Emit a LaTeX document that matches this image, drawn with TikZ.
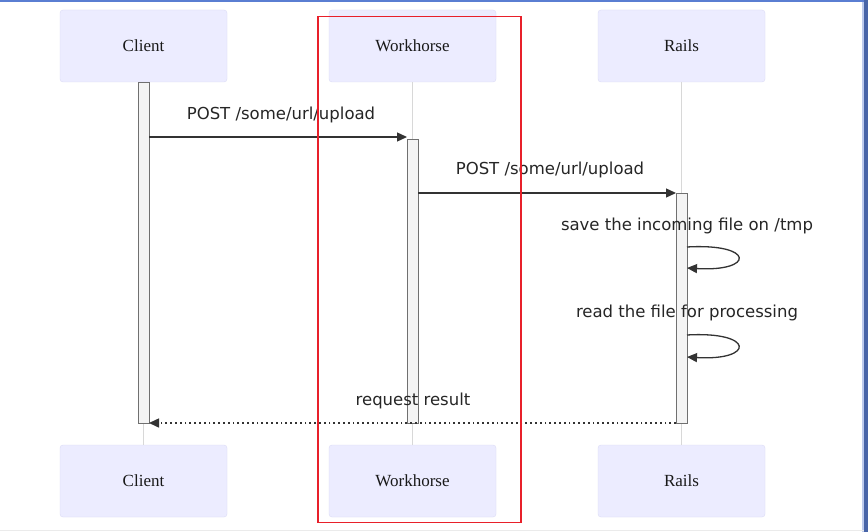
\documentclass[tikz,border=0pt]{standalone}
\usepackage{fontspec}
\setmainfont{Liberation Serif}
\newfontfamily\msgfont{DejaVu Sans}
\usetikzlibrary{arrows.meta}
\definecolor{actfill}{HTML}{ECECFF}
\definecolor{actdraw}{HTML}{DCDCF6}
\definecolor{barfill}{HTML}{F4F4F4}
\definecolor{bardraw}{HTML}{707070}
\definecolor{lifecol}{HTML}{D8D8D8}
\definecolor{msgcol}{HTML}{333333}
\definecolor{framecol}{HTML}{5A7ED2}
\definecolor{hlred}{HTML}{E8202A}
\tikzset{
  actor/.style={draw=actdraw, fill=actfill, rounded corners=3pt, minimum width=167pt, minimum height=72pt, inner sep=0pt, font=\fontsize{17}{19}\selectfont, text=black!90},
  bar/.style={draw=bardraw, fill=barfill, line width=1pt},
  lifeline/.style={draw=lifecol, line width=1pt},
  msg/.style={draw=msgcol, line width=1.3pt, -{Triangle[length=10pt,width=9pt]}},
  reply/.style={draw=msgcol, line width=1.5pt, dash pattern=on 1.8pt off 3pt, -{Triangle[length=10pt,width=9pt]}},
  lbl/.style={font=\msgfont\fontsize{16.5}{18}\selectfont, text=black!85, inner sep=0pt}
}
\begin{document}
\begin{tikzpicture}[x=1pt,y=-1pt]
\useasboundingbox (0,0) rectangle (868,532);
\fill[white] (0,0) rectangle (868,532);
% screenshot frame
\fill[framecol] (0,0) rectangle (868,2.5);
\fill[framecol!80!black] (864,0) rectangle (868,532);
\fill[framecol!40] (861.5,2.5) rectangle (864,532);
\draw[black!8, line width=1pt] (0,530.5) -- (864,530.5);

% actors
\node[actor] (ct) at (143.5,46) {Client};
\node[actor] (wt) at (412.5,46) {Workhorse};
\node[actor] (rt) at (681.5,46) {Rails};
\node[actor] (cb) at (143.5,481) {Client};
\node[actor] (wb) at (412.5,481) {Workhorse};
\node[actor] (rb) at (681.5,481) {Rails};

% lifelines
\draw[lifeline] (ct.south) -- (cb.north);
\draw[lifeline] (wt.south) -- (wb.north);
\draw[lifeline] (rt.south) -- (rb.north);

% activation bars
\draw[bar] (138,83) rectangle (149,423);
\draw[bar] (407,140) rectangle (418,423);
\draw[bar] (676,194) rectangle (687,423);
\coordinate (c1) at (149,137);
\coordinate (w1) at (407,137);
\coordinate (w2) at (418,193);
\coordinate (r2) at (676,193);
\coordinate (s1a) at (687,247);
\coordinate (s1b) at (687,268);
\coordinate (s2a) at (687,335);
\coordinate (s2b) at (687,357);
\coordinate (r3) at (676,423);
\coordinate (c3) at (149,423);

% messages
\draw[msg] (c1) -- (w1);
\node[lbl] (m1) at (281,115) {POST /some/url/upload};
\draw[msg] (w2) -- (r2);
\node[lbl] (m2) at (550,170) {POST /some/url/upload};
\node[lbl] (m3) at (687,226) {save the incoming file on /tmp};
\draw[msg] (s1a) .. controls (755,243) and (755,272) .. (s1b);
\node[lbl] (m4) at (687,313) {read the file for processing};
\draw[msg] (s2a) .. controls (755,331) and (755,361) .. (s2b);
\node[lbl] (m5) at (413,401) {request result};
\draw[reply] (r3) -- (c3);

% highlight box
\draw[hlred, line width=1.5pt] (318,16.5) rectangle (521,522.5);
\end{tikzpicture}
\end{document}
